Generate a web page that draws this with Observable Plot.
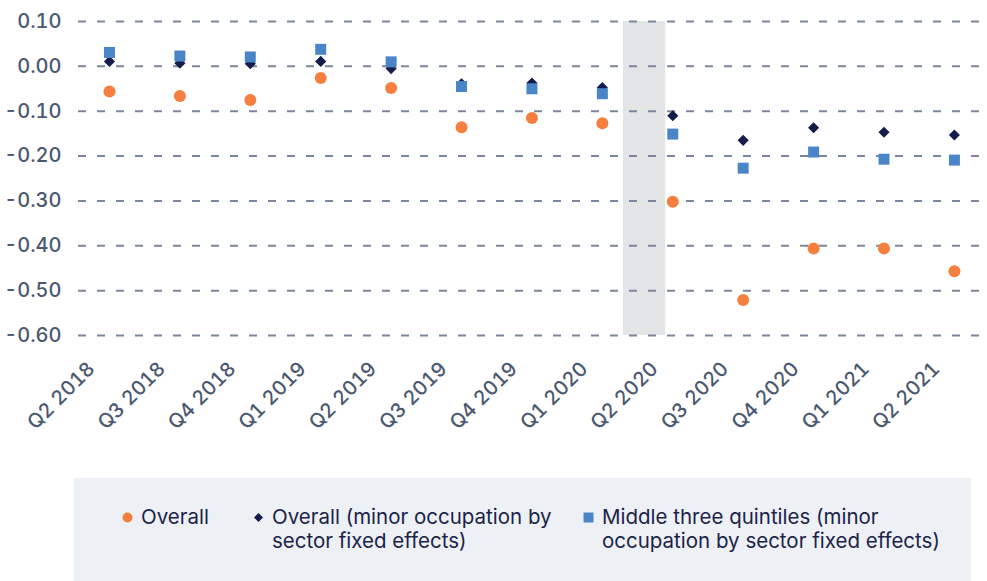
<!DOCTYPE html>
<html><head><meta charset="utf-8">
<script src="https://cdn.jsdelivr.net/npm/d3@7"></script>
<script src="https://cdn.jsdelivr.net/npm/@observablehq/plot@0.6"></script>
<style>
body{margin:0;background:#fff;font-family:Inter,"Open Sans",sans-serif;}
#wrap{position:relative;width:987px;height:581px;overflow:hidden;}
#chart{position:absolute;left:0;top:0;}
#legend{position:absolute;left:74px;top:478px;width:897px;height:103px;background:#edf1f6;}
.item{position:absolute;top:27px;display:flex;align-items:flex-start;font-size:20.5px;line-height:24px;color:#1b2348;white-space:nowrap;}
.mk{flex:none;margin-top:7px;margin-right:8px;}
</style></head>
<body>
<div id="wrap"><div id="chart"></div>
<div id="legend"></div></div>
<script>
const quarters = ["Q2 2018","Q3 2018","Q4 2018","Q1 2019","Q2 2019","Q3 2019","Q4 2019","Q1 2020","Q2 2020","Q3 2020","Q4 2020","Q1 2021","Q2 2021"];
const overall   = [-0.056,-0.066,-0.075,-0.026,-0.048,-0.136,-0.115,-0.127,-0.302,-0.521,-0.406,-0.406,-0.457];
const overallFE = [0.011,0.007,0.006,0.011,-0.005,-0.039,-0.037,-0.047,-0.110,-0.165,-0.137,-0.147,-0.153];
const middleFE  = [0.031,0.023,0.021,0.038,0.010,-0.045,-0.050,-0.061,-0.151,-0.227,-0.191,-0.207,-0.209];
const yTicks = [0.1,0,-0.1,-0.2,-0.3,-0.4,-0.5,-0.6];
const shade = [{x1:7.3, x2:7.9}];
const seriesLines = [["Overall"],["Overall (minor occupation by","sector fixed effects)"],["Middle three quintiles (minor","occupation by sector fixed effects)"]];
const colors = ["#f47f3e","#141d4a","#4a86c7"];

const idx = d3.range(quarters.length);
const mk = (vals) => idx.map(i => ({i, v: vals[i]}));

const chart = Plot.plot({
  width: 987, height: 478,
  marginTop: 21, marginBottom: 143, marginLeft: 78, marginRight: 0,
  style: {fontFamily: "Inter, 'Open Sans', sans-serif", background: "transparent"},
  x: {type: "linear", domain: [-0.44, 12.47]},
  y: {domain: [-0.6, 0.1]},
  marks: [
    Plot.rect(shade, {x1: "x1", x2: "x2", fill: "#e4e5e7"}),
    Plot.ruleY(yTicks, {stroke: "#7d879c", strokeWidth: 2, strokeDasharray: "8,11"}),
    Plot.axisY(yTicks, {tickSize: 0, tickPadding: 17, tickFormat: d => d.toFixed(2), fontSize: 20, fontWeight: 500, fill: "#4a5870", label: null}),
    Plot.axisX(idx, {tickSize: 0, tickRotate: -45, tickPadding: 30, dx: -18, tickFormat: i => quarters[i], fontSize: 20, fontWeight: 500, fill: "#4a5870", label: null}),
    Plot.dot(mk(overall), {x: "i", y: "v", r: 6, fill: colors[0], symbol: "circle"}),
    Plot.dot(mk(overallFE), {x: "i", y: "v", r: 5, fill: colors[1], symbol: "diamond2"}),
    Plot.dot(mk(middleFE), {x: "i", y: "v", r: 6.2, fill: colors[2], symbol: "square"})
  ]
});
document.getElementById("chart").appendChild(chart);

const legend = document.getElementById("legend");
const items = [
  {left: 48, marker: `<svg class="mk" width="11" height="11"><circle cx="5.5" cy="5.5" r="5" fill="${colors[0]}"/></svg>`},
  {left: 179, marker: `<svg class="mk" width="11" height="11"><path d="M5.5,1L10,5.5L5.5,10L1,5.5Z" fill="${colors[1]}"/></svg>`},
  {left: 509, marker: `<svg class="mk" width="11" height="11"><rect x="0.5" y="0.5" width="10" height="10" fill="${colors[2]}"/></svg>`}
];
items.forEach((it, k) => {
  const d = document.createElement("div");
  d.className = "item";
  d.style.left = it.left + "px";
  d.innerHTML = it.marker + `<span>${seriesLines[k].join("<br>")}</span>`;
  legend.appendChild(d);
});
</script>
</body></html>
